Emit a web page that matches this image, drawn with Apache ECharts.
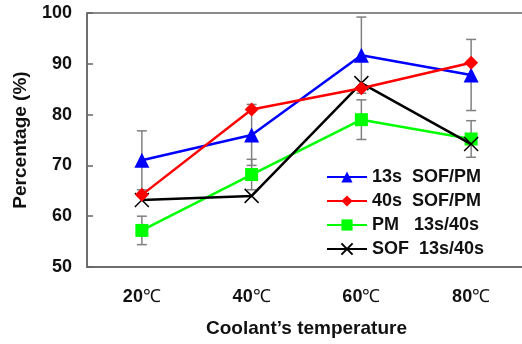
<!DOCTYPE html>
<html lang="en">
<head>
    <meta charset="UTF-8">
    <title>Coolant temperature</title>
    <script src="https://cdn.jsdelivr.net/npm/echarts@6/dist/echarts.min.js"></script>
    <style>
        body { margin: 0; background: #fff; }
    </style>
</head>
<body>
<div style="height: 344px;width: 522px" id="chart"></div>
<script type="text/javascript">
    // data
    var categories = ['20℃', '40℃', '60℃', '80℃'];
    var names = ['13s  SOF/PM', '40s  SOF/PM', 'PM   13s/40s', 'SOF  13s/40s'];
    var sofPm13 = [71, 76, 91.7, 87.8];
    var sofPm40 = [64.2, 81, 85.2, 90.2];
    var pm1340 = [57.2, 68.2, 79, 75.2];
    var sof1340 = [63.2, 64, 86.2, 74.2];
    // +/- error bars
    var sofPm13Err = [5.8, 6, 7.5, 7];
    var pm1340Err = [2.8, 3, 3.9, 3.6];
    var yTicks = [50, 60, 70, 80, 90, 100];

    var font = "'Liberation Sans', Arial, sans-serif";

    function errData(vals, errs) {
        var out = [];
        for (var i = 0; i < vals.length; i++) {
            out.push([i, vals[i] - errs[i], vals[i] + errs[i]]);
        }
        return out;
    }

    function renderErr(params, api) {
        var lo = api.coord([api.value(0), api.value(1)]);
        var hi = api.coord([api.value(0), api.value(2)]);
        var w = 5;
        var st = { stroke: '#808080', lineWidth: 1.5 };
        return {
            type: 'group',
            children: [
                { type: 'line', shape: { x1: lo[0], y1: lo[1], x2: hi[0], y2: hi[1] }, style: st },
                { type: 'line', shape: { x1: lo[0] - w, y1: lo[1], x2: lo[0] + w, y2: lo[1] }, style: st },
                { type: 'line', shape: { x1: hi[0] - w, y1: hi[1], x2: hi[0] + w, y2: hi[1] }, style: st }
            ]
        };
    }

    var chart = echarts.init(document.getElementById('chart'));
    var option = {
        animation: false,
        backgroundColor: '#fff',
        textStyle: { fontFamily: font },
        grid: {
            left: 87, top: 13, width: 439, bottom: 77,
            outerBoundsMode: 'none',
            show: true, borderColor: '#666', borderWidth: 1.5,
            backgroundColor: 'transparent'
        },
        legend: {
            orient: 'vertical',
            left: 321, top: 163,
            itemWidth: 40, itemHeight: 14, itemGap: 6,
            data: names,
            textStyle: { fontFamily: font, fontWeight: 'bold', fontSize: 18, color: '#111' }
        },
        xAxis: {
            type: 'category',
            data: categories,
            boundaryGap: true,
            axisLine: { lineStyle: { color: '#666', width: 1.5 } },
            axisTick: { inside: true, length: 5, lineStyle: { color: '#666', width: 1.5 } },
            axisLabel: {
                margin: 21,
                formatter: function (v) { return '{n|' + v.replace('℃', '') + '}{u|℃}'; },
                rich: {
                    n: { fontFamily: font, fontWeight: 'bold', fontSize: 18, color: '#111' },
                    u: { fontFamily: font, fontSize: 18, color: '#111' }
                }
            },
            name: 'Coolant’s temperature',
            nameLocation: 'middle',
            nameGap: 52,
            nameTextStyle: { fontFamily: font, fontWeight: 'bold', fontSize: 19, color: '#111' }
        },
        yAxis: {
            type: 'value',
            min: yTicks[0], max: yTicks[yTicks.length - 1], interval: 10,
            splitLine: { show: false },
            axisLine: { show: true, lineStyle: { color: '#666', width: 1.5 } },
            axisTick: { show: true, inside: true, length: 6, lineStyle: { color: '#666', width: 1.5 } },
            axisLabel: { margin: 15, fontFamily: font, fontWeight: 'bold', fontSize: 18, color: '#111' },
            name: 'Percentage (%)',
            nameLocation: 'middle',
            nameGap: 57,
            nameTextStyle: { fontFamily: font, fontWeight: 'bold', fontSize: 19, color: '#111' }
        },
        series: [
            { type: 'custom', renderItem: renderErr, data: errData(sofPm13, sofPm13Err), z: 1, silent: true },
            { type: 'custom', renderItem: renderErr, data: errData(pm1340, pm1340Err), z: 1, silent: true },
            {
                name: names[2], type: 'line', data: pm1340, z: 3,
                symbol: 'rect', symbolSize: 13,
                itemStyle: { color: '#00ff00' },
                lineStyle: { color: '#00ff00', width: 2.5 }
            },
            {
                name: names[0], type: 'line', data: sofPm13, z: 4,
                symbol: 'triangle', symbolSize: 15,
                itemStyle: { color: '#0000ff' },
                lineStyle: { color: '#0000ff', width: 2.5 }
            },
            {
                name: names[3], type: 'line', data: sof1340, z: 5,
                symbol: 'path://M0,0L10,10M10,0L0,10', symbolSize: 14,
                itemStyle: { color: 'none', borderColor: '#000', borderWidth: 1.5 },
                lineStyle: { color: '#000', width: 2.5 }
            },
            {
                name: names[1], type: 'line', data: sofPm40, z: 6,
                symbol: 'diamond', symbolSize: 14,
                itemStyle: { color: '#ff0000' },
                lineStyle: { color: '#ff0000', width: 2.5 }
            }
        ]
    };
    chart.setOption(option);
</script>
</body>
</html>
